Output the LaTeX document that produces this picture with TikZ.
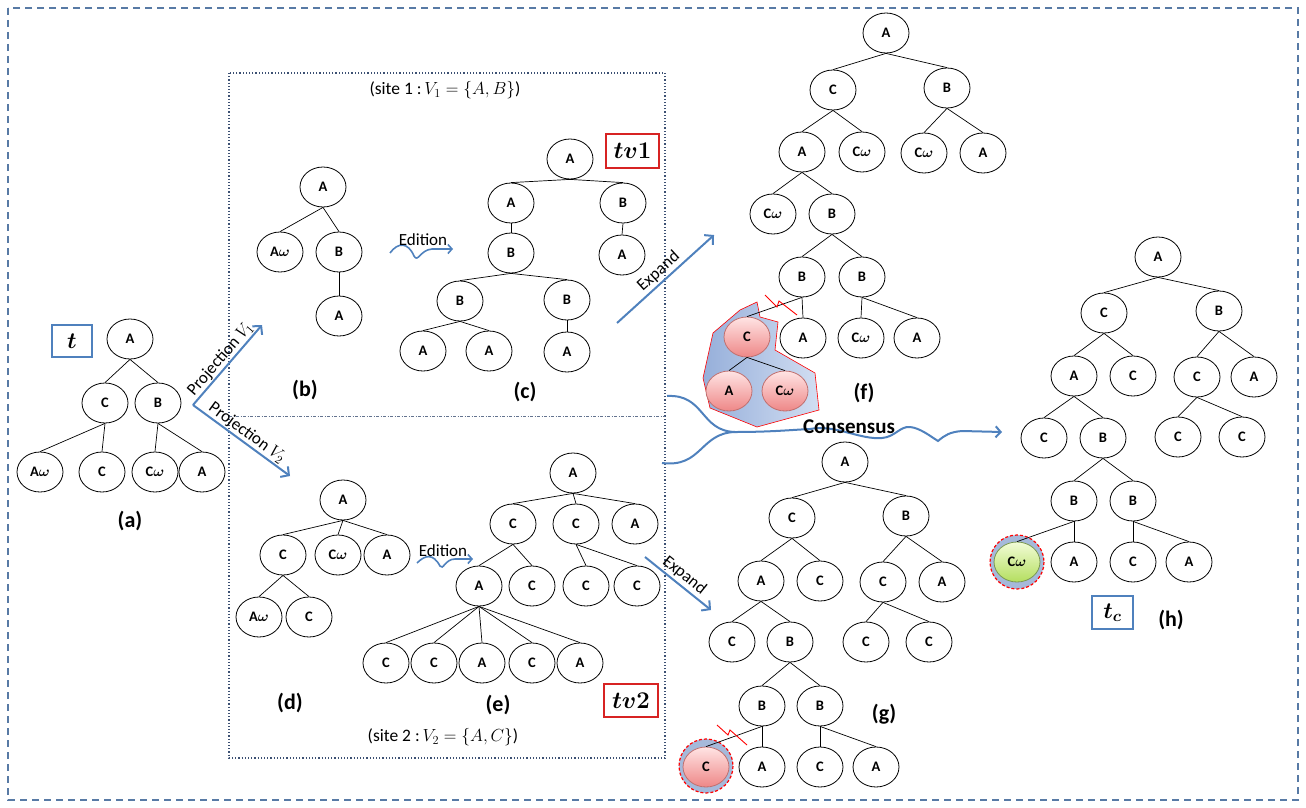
\RequirePackage{fix-cm}
\documentclass[tikz,border=0pt]{standalone}
\usepackage{amsmath,bm}
\usepackage{fontspec}
\setmainfont{Carlito}
\usetikzlibrary{shapes.geometric,arrows.meta}
\definecolor{bluearr}{RGB}{79,129,189}
\definecolor{borderblue}{RGB}{88,122,165}
\definecolor{dotbox}{RGB}{60,80,115}
\definecolor{boxred}{RGB}{215,35,35}
\definecolor{polyA}{RGB}{150,175,218}
\definecolor{polyB}{RGB}{210,222,242}
\definecolor{diskblue}{RGB}{165,185,218}
\definecolor{redtop}{RGB}{255,228,228}
\definecolor{redbot}{RGB}{238,135,135}
\definecolor{redrim}{RGB}{190,110,110}
\definecolor{greentop}{RGB}{242,252,215}
\definecolor{greenbot}{RGB}{180,222,95}
\definecolor{greenrim}{RGB}{120,150,80}
\tikzset{
  nd/.style={ellipse, draw, fill=white, line width=0.8pt, minimum width=46pt, minimum height=40pt, inner sep=0pt, font=\fontsize{14.5}{16}\selectfont\bfseries},
  rednd/.style={nd, draw=redrim, top color=redtop, bottom color=redbot},
  greennd/.style={nd, draw=greenrim, top color=greentop, bottom color=greenbot},
  edge/.style={line width=0.7pt},
  lbl/.style={font=\fontsize{22}{22}\selectfont\bfseries},
  txt/.style={font=\fontsize{17}{19}\selectfont},
  bigarrow/.style={draw=bluearr, line width=2pt, -{Straight Barb[length=6pt,width=13pt]}},
  edarrow/.style={draw=bluearr, line width=1.6pt, -{Straight Barb[length=4pt,width=9pt]}},
  consline/.style={draw=bluearr, line width=2pt},
  bluebox/.style={draw=bluearr, line width=1.3pt, inner sep=0pt},
  redbox/.style={draw=boxred, line width=1.3pt, inner sep=0pt},
  zig/.style={draw=red, line width=0.9pt},
  disk/.style={fill=diskblue, draw=red, line width=1.2pt, dash pattern=on 3pt off 2pt}
}
\newcommand{\om}{$\bm{\omega}$}
\begin{document}
\begin{tikzpicture}[x=1pt,y=-1pt]
\useasboundingbox (0,0) rectangle (1306,808);
% outer border
\draw[borderblue, line width=1.8pt, dash pattern=on 7pt off 5pt] (8,8) rectangle (1298,800);
% inner dotted box
\draw[dotbox, line width=1.2pt, dotted] (229,73) rectangle (665,758);
\draw[dotbox!80, line width=0.9pt, dash pattern=on 3pt off 1.5pt on 1pt off 1.5pt] (229,416) -- (665,416);

% background highlights
\draw[red, line width=0.6pt, left color=polyA, right color=polyB]
  (757,302) -- (760,317) -- (778,322) -- (775,350) -- (815,373) -- (819,410) -- (757,427) -- (710,408) -- (703,378) -- (713,333) -- (740,310) -- cycle;
\draw[disk] (706,766) circle (27);
\draw[disk] (1017,562) circle (27);

% ---------- (a)
\node[nd] (a1) at (130,339) {A};
\node[nd] (a2) at (105,403) {C};
\node[nd] (a3) at (158,403) {B};
\node[nd] (a4) at (40,472) {A\om};
\node[nd] (a5) at (102,472) {C};
\node[nd] (a6) at (155,472) {C\om};
\node[nd] (a7) at (202,472) {A};
\foreach \p/\c in {a1/a2,a1/a3,a2/a4,a2/a5,a3/a6,a3/a7} \draw[edge] (\p.south) -- (\c.north);
\node[bluebox, minimum width=40pt, minimum height=32pt, font=\fontsize{23}{23}\selectfont] (tbox) at (72,341) {$\bm{t}$};
\node[lbl] (la) at (130,521) {(a)};

% ---------- (b)
\node[nd] (b1) at (323,187) {A};
\node[nd] (b2) at (280,252) {A\om};
\node[nd] (b3) at (339,252) {B};
\node[nd] (b4) at (339,316) {A};
\foreach \p/\c in {b1/b2,b1/b3,b3/b4} \draw[edge] (\p.south) -- (\c.north);
\node[lbl] (lb) at (305,390) {(b)};

% ---------- (c)
\node[nd] (c1) at (570,159) {A};
\node[nd] (c2) at (511,203) {A};
\node[nd] (c3) at (623,203) {B};
\node[nd] (c4) at (511,253) {B};
\node[nd] (c5) at (622,255) {A};
\node[nd] (c6) at (460,301) {B};
\node[nd] (c7) at (567,300) {B};
\node[nd] (c8) at (423,351) {A};
\node[nd] (c9) at (489,351) {A};
\node[nd] (c10) at (567,352) {A};
\foreach \p/\c in {c1/c2,c1/c3,c2/c4,c3/c5,c4/c6,c4/c7,c6/c8,c6/c9,c7/c10} \draw[edge] (\p.south) -- (\c.north);
\node[lbl] (lc) at (525,392) {(c)};
\node[redbox, minimum width=53pt, minimum height=34pt, font=\fontsize{24}{24}\selectfont] (tv1) at (632.5,151) {$\bm{tv1}$};
\node[font=\fontsize{17.5}{19}\selectfont] (site1) at (445,90) {(site 1 :\,$V_1=\{A,B\}$)};

% ---------- (d)
\node[nd] (d1) at (343,500) {A};
\node[nd] (d2) at (283,555) {C};
\node[nd] (d3) at (338,555) {C\om};
\node[nd] (d4) at (387,555) {A};
\node[nd] (d5) at (259,617) {A\om};
\node[nd] (d6) at (309,617) {C};
\foreach \p/\c in {d1/d2,d1/d3,d1/d4,d2/d5,d2/d6} \draw[edge] (\p.south) -- (\c.north);
\node[lbl] (ld) at (290,703) {(d)};

% ---------- (e)
\node[nd] (e1) at (573,473) {A};
\node[nd] (e2) at (513,524) {C};
\node[nd] (e3) at (576,524) {C};
\node[nd] (e4) at (635,524) {A};
\node[nd] (e5) at (479,586) {A};
\node[nd] (e6) at (532,586) {C};
\node[nd] (e7) at (586,586) {C};
\node[nd] (e8) at (637,586) {C};
\node[nd] (e9) at (386,663) {C};
\node[nd] (e10) at (434,663) {C};
\node[nd] (e11) at (482,663) {A};
\node[nd] (e12) at (532,663) {C};
\node[nd] (e13) at (580,663) {A};
\foreach \p/\c in {e1/e2,e1/e3,e1/e4,e2/e5,e2/e6,e3/e7,e3/e8,e5/e9,e5/e10,e5/e11,e5/e12,e5/e13} \draw[edge] (\p.south) -- (\c.north);
\node[lbl] (le) at (498,705) {(e)};
\node[redbox, minimum width=54pt, minimum height=33pt, font=\fontsize{24}{24}\selectfont] (tv2) at (631,700.5) {$\bm{tv2}$};
\node[font=\fontsize{17.5}{19}\selectfont] (site2) at (443,737) {(site 2 :\,$V_2=\{A,C\}$)};

% ---------- (f)
\node[nd] (f1) at (886,33) {A};
\node[nd] (f2) at (833,90) {C};
\node[nd] (f3) at (947,88) {B};
\node[nd] (f4) at (802,152) {A};
\node[nd] (f5) at (862,152) {C\om};
\node[nd] (f6) at (924,153) {C\om};
\node[nd] (f7) at (983,153) {A};
\node[nd] (f8) at (773,214) {C\om};
\node[nd] (f9) at (832,214) {B};
\node[nd] (f10) at (802,277) {B};
\node[nd] (f11) at (862,277) {B};
\node[rednd] (f12) at (747,337) {C};
\node[nd] (f13) at (803,338) {A};
\node[nd] (f14) at (861,338) {C\om};
\node[nd] (f15) at (917,338) {A};
\node[rednd] (f16) at (729,391) {A};
\node[rednd] (f17) at (785,391) {C\om};
\foreach \p/\c in {f1/f2,f1/f3,f2/f4,f2/f5,f3/f6,f3/f7,f4/f8,f4/f9,f9/f10,f9/f11,f10/f12,f10/f13,f11/f14,f11/f15,f12/f16,f12/f17} \draw[edge] (\p.south) -- (\c.north);
\draw[zig] (765,295) -- (777,307) -- (779,301) -- (797,315);
\node[lbl] (lf) at (864,393) {(f)};

% ---------- (g)
\node[nd] (g1) at (845,462) {A};
\node[nd] (g2) at (792,518) {C};
\node[nd] (g3) at (906,516) {B};
\node[nd] (g4) at (761,581) {A};
\node[nd] (g5) at (820,581) {C};
\node[nd] (g6) at (883,582) {C};
\node[nd] (g7) at (942,582) {A};
\node[nd] (g8) at (732,642) {C};
\node[nd] (g9) at (790,642) {B};
\node[nd] (g10) at (866,642) {C};
\node[nd] (g11) at (929,642) {C};
\node[nd] (g12) at (762,706) {B};
\node[nd] (g13) at (820,706) {B};
\node[rednd] (g14) at (706,767) {C};
\node[nd] (g15) at (762,767) {A};
\node[nd] (g16) at (820,767) {C};
\node[nd] (g17) at (876,767) {A};
\foreach \p/\c in {g1/g2,g1/g3,g2/g4,g2/g5,g3/g6,g3/g7,g4/g8,g4/g9,g6/g10,g6/g11,g9/g12,g9/g13,g12/g14,g12/g15,g13/g16,g13/g17} \draw[edge] (\p.south) -- (\c.north);
\draw[zig] (717,725) -- (728,735) -- (730,730) -- (747,745);
\node[lbl] (lg) at (884,714) {(g)};

% ---------- (h)
\node[nd] (h1) at (1158,257) {A};
\node[nd] (h2) at (1104,313) {C};
\node[nd] (h3) at (1219,311) {B};
\node[nd] (h4) at (1074,376) {A};
\node[nd] (h5) at (1133,376) {C};
\node[nd] (h6) at (1197,377) {C};
\node[nd] (h7) at (1254,377) {A};
\node[nd] (h8) at (1044,438) {C};
\node[nd] (h9) at (1103,438) {B};
\node[nd] (h10) at (1178,437) {C};
\node[nd] (h11) at (1242,437) {C};
\node[nd] (h12) at (1074,501) {B};
\node[nd] (h13) at (1133,501) {B};
\node[greennd] (h14) at (1017,562) {C\om};
\node[nd] (h15) at (1074,562) {A};
\node[nd] (h16) at (1133,562) {C};
\node[nd] (h17) at (1189,562) {A};
\foreach \p/\c in {h1/h2,h1/h3,h2/h4,h2/h5,h3/h6,h3/h7,h4/h8,h4/h9,h6/h10,h6/h11,h9/h12,h9/h13,h12/h14,h12/h15,h13/h16,h13/h17} \draw[edge] (\p.south) -- (\c.north);
\node[bluebox, minimum width=41pt, minimum height=33pt, font=\fontsize{23}{23}\selectfont] (tcbox) at (1112.5,612.5) {$\bm{t_c}$};
\node[lbl] (lh) at (1171,620) {(h)};

% ---------- arrows
\coordinate (ps) at (193,405);
\coordinate (p1e) at (262,325);
\coordinate (p2e) at (290,476);
\draw[bigarrow] (ps) -- node[midway, above, sloped, txt, inner sep=1pt] {Projection $V_1$} (p1e);
\draw[bigarrow] (ps) -- node[midway, above, sloped, txt, inner sep=1pt] {Projection $V_2$} (p2e);

\coordinate (x1s) at (617,323);
\coordinate (x1e) at (714,235);
\coordinate (x2s) at (645,557);
\coordinate (x2e) at (711,610);
\draw[bigarrow] (x1s) -- node[midway, above, sloped, txt, inner sep=2pt] {Expand} (x1e);
\draw[bigarrow] (x2s) -- node[midway, above, sloped, txt, inner sep=2pt] {Expand} (x2e);

\coordinate (ed1s) at (390,253);
\coordinate (ed1e) at (453,249);
\draw[edarrow] (ed1s) .. controls (398,242) and (408,242) .. (414,256) .. controls (418,263) and (420,250) .. (432,249) -- (ed1e);
\node[txt] (edl1) at (423,240) {Edition};
\coordinate (ed2s) at (417,563);
\coordinate (ed2e) at (473,559);
\draw[edarrow] (ed2s) .. controls (425,555) and (433,553) .. (440,566) .. controls (443,571) and (445,559) .. (455,559) -- (ed2e);
\node[txt] (edl2) at (443,551) {Edition};

% consensus
\coordinate (cs1) at (667,396);
\coordinate (cs2) at (662,463);
\coordinate (cm) at (735,432);
\coordinate (ce) at (1002,432);
\draw[consline] (cs1) .. controls (705,394) and (700,431) .. (cm);
\draw[consline] (cs2) .. controls (702,468) and (700,433) .. (cm);
\draw[consline, -{Straight Barb[length=5pt,width=11pt]}] (cm) .. controls (770,432) and (790,430) .. (810,429)
  .. controls (835,424) and (860,440) .. (882,438)
  .. controls (895,437) and (900,426) .. (910,427)
  .. controls (920,428) and (930,436) .. (938,441)
  .. controls (945,435) and (950,432) .. (962,431) -- (ce);
\node[font=\fontsize{21}{23}\selectfont\bfseries] (cons) at (849,427) {Consensus};
\end{tikzpicture}
\end{document}
